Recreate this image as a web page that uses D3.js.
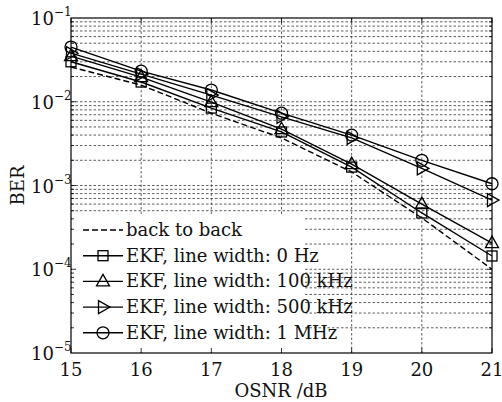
<!DOCTYPE html>
<html lang="en">
  <head>
    <meta charset="utf-8">
    <title>BER vs OSNR</title>
    <script src="https://cdn.jsdelivr.net/npm/d3@7/dist/d3.min.js"></script>
    <style>
      body { margin: 0; background: #fff; }
      text { font-family: "DejaVu Serif", "Liberation Serif", serif; fill: #111; }
    </style>
  </head>
  <body>
    <script type="text/javascript">
      // x values (OSNR, dB)
      var osnr = [15, 16, 17, 18, 19, 20, 21]

      // BER, one array per curve
      var backToBack = [0.026, 0.0158, 0.0073, 0.0037, 0.00145, 0.00041, 0.000100]
      var ekf0Hz     = [0.030, 0.0172, 0.0084, 0.00436, 0.00166, 0.00047, 0.000144]
      var ekf100kHz  = [0.035, 0.0197, 0.0099, 0.0047, 0.0018, 0.00060, 0.000205]
      var ekf500kHz  = [0.038, 0.0214, 0.0120, 0.0066, 0.0037, 0.0016, 0.00067]
      var ekf1MHz    = [0.045, 0.0232, 0.0138, 0.0073, 0.0040, 0.0020, 0.00105]

      var seriesNames = ["back to back", "EKF, line width: 0 Hz", "EKF, line width: 100 kHz",
                         "EKF, line width: 500 kHz", "EKF, line width: 1 MHz"]
      var seriesMarkers = ["none", "square", "triangleUp", "triangleRight", "circle"]

      var xTicks = [15, 16, 17, 18, 19, 20, 21]
      var yDecades = [-5, -4, -3, -2, -1]

      var drawChart = function () {
        var w = 502
        var h = 402
        var pl = 71, pr = 492, pt = 18, pb = 353   // plot box edges

        var svg = d3.select("body").append("svg")
          .attr("width", w)
          .attr("height", h)

        var x = d3.scaleLinear().domain([15, 21]).range([pl, pr])
        var y = d3.scaleLog().domain([1e-5, 1e-1]).range([pb, pt])

        // minor + major y values inside the box
        var yGrid = []
        yDecades.forEach(function (e) {
          for (var k = 1; k < 10; k++) yGrid.push(k * Math.pow(10, e))
        })
        yGrid = yGrid.filter(function (v) { return v > 1.0001e-5 && v < 0.0999 })

        var grid = svg.append("g")
        grid.selectAll("line.hg")
          .data(yGrid)
          .enter().append("line")
          .attr("x1", pl).attr("x2", pr)
          .attr("y1", function (d) { return y(d) }).attr("y2", function (d) { return y(d) })
          .attr("stroke", "#333").attr("stroke-width", 0.8)
          .attr("stroke-dasharray", "2.5,2")
        grid.selectAll("line.vg")
          .data(xTicks.slice(1, -1))
          .enter().append("line")
          .attr("x1", function (d) { return x(d) }).attr("x2", function (d) { return x(d) })
          .attr("y1", pt).attr("y2", pb)
          .attr("stroke", "#333").attr("stroke-width", 0.8)
          .attr("stroke-dasharray", "2.5,2")

        // curves
        var allSeries = [backToBack, ekf0Hz, ekf100kHz, ekf500kHz, ekf1MHz]
        var line = d3.line()
          .x(function (d, i) { return x(osnr[i]) })
          .y(function (d) { return y(d) })

        allSeries.forEach(function (s, si) {
          svg.append("path")
            .attr("d", line(s))
            .attr("fill", "none")
            .attr("stroke", "#000")
            .attr("stroke-width", 1.4)
            .attr("stroke-dasharray", si == 0 ? "6,3" : null)
          if (seriesMarkers[si] != "none") {
            s.forEach(function (v, i) {
              drawMarker(svg, seriesMarkers[si], x(osnr[i]), y(v))
            })
          }
        })

        function drawMarker(g, kind, cx, cy) {
          var m
          if (kind == "square") {
            m = g.append("rect").attr("x", cx - 5).attr("y", cy - 5)
              .attr("width", 10).attr("height", 10)
          } else if (kind == "circle") {
            m = g.append("circle").attr("cx", cx).attr("cy", cy).attr("r", 6)
          } else if (kind == "triangleUp") {
            m = g.append("path").attr("d", "M" + cx + "," + (cy - 7) + "L" + (cx + 6.5) + "," + (cy + 4.5) +
              "L" + (cx - 6.5) + "," + (cy + 4.5) + "Z")
          } else {
            m = g.append("path").attr("d", "M" + (cx + 7) + "," + cy + "L" + (cx - 4.5) + "," + (cy - 6.5) +
              "L" + (cx - 4.5) + "," + (cy + 6.5) + "Z")
          }
          m.attr("fill", "none").attr("stroke", "#000").attr("stroke-width", 1.3)
        }

        // legend: white box, no border, text runs past it
        var lg = svg.append("g")
        lg.append("rect")
          .attr("x", pl + 1).attr("y", 214)
          .attr("width", 233).attr("height", pb - 215)
          .attr("fill", "#fff")

        // axis ticks (drawn over legend box)
        yGrid.forEach(function (v) {
          var major = Math.abs(Math.log10(v) - Math.round(Math.log10(v))) < 1e-6
          var len = major ? 5 : 3
          svg.append("line").attr("x1", pl).attr("x2", pl + len)
            .attr("y1", y(v)).attr("y2", y(v)).attr("stroke", "#000").attr("stroke-width", 0.8)
          svg.append("line").attr("x1", pr).attr("x2", pr - len)
            .attr("y1", y(v)).attr("y2", y(v)).attr("stroke", "#000").attr("stroke-width", 0.8)
        })
        xTicks.forEach(function (t) {
          svg.append("line").attr("x1", x(t)).attr("x2", x(t))
            .attr("y1", pb).attr("y2", pb - 5).attr("stroke", "#000").attr("stroke-width", 0.8)
          svg.append("line").attr("x1", x(t)).attr("x2", x(t))
            .attr("y1", pt).attr("y2", pt + 5).attr("stroke", "#000").attr("stroke-width", 0.8)
        })

        seriesNames.forEach(function (name, i) {
          var ly = 230 + i * 25.7
          lg.append("line")
            .attr("x1", 83).attr("x2", 123).attr("y1", ly).attr("y2", ly)
            .attr("stroke", "#000").attr("stroke-width", 1.4)
            .attr("stroke-dasharray", i == 0 ? "6,3" : null)
          if (seriesMarkers[i] != "none") drawMarker(lg, seriesMarkers[i], 103, ly)
          svg.append("text")
            .attr("x", 126).attr("y", ly + 6)
            .attr("font-size", 18)
            .text(name)
        })

        // axes box
        svg.append("rect")
          .attr("x", pl).attr("y", pt)
          .attr("width", pr - pl).attr("height", pb - pt)
          .attr("fill", "none").attr("stroke", "#000").attr("stroke-width", 1.2)

        // tick labels
        svg.selectAll("text.xt")
          .data(xTicks)
          .enter().append("text")
          .attr("x", function (d) { return x(d) })
          .attr("y", 376)
          .attr("text-anchor", "middle")
          .attr("font-size", 18)
          .text(function (d) { return d })

        yDecades.forEach(function (e) {
          var t = svg.append("text")
            .attr("x", 31).attr("y", y(Math.pow(10, e)) + 7)
            .attr("font-size", 18)
          t.append("tspan").text("10")
          t.append("tspan").attr("dy", -9).attr("font-size", 12).text("\u2212" + Math.abs(e))
        })

        // axis titles
        svg.append("text")
          .attr("x", 281).attr("y", 397)
          .attr("text-anchor", "middle")
          .attr("font-size", 18)
          .text("OSNR /dB")
        svg.append("text")
          .attr("transform", "translate(24," + ((pt + pb) / 2) + ") rotate(-90)")
          .attr("text-anchor", "middle")
          .attr("font-size", 18)
          .text("BER")
      }

      drawChart()
    </script>
  </body>
</html>
